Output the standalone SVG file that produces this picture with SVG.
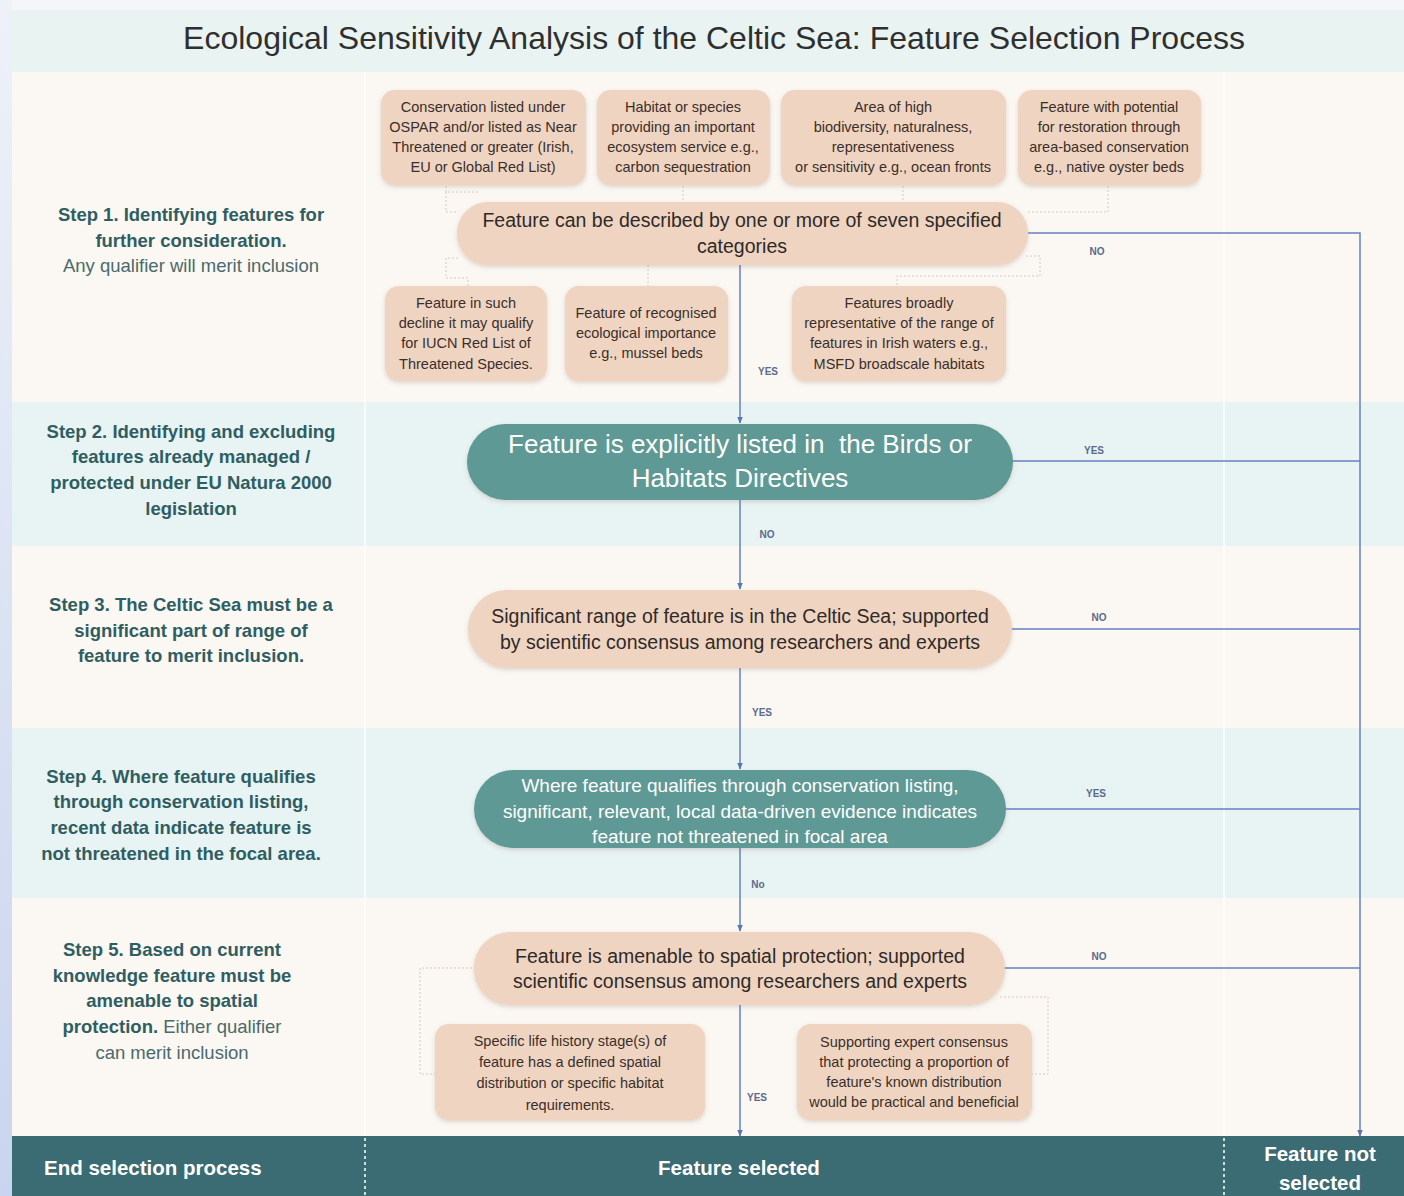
<svg xmlns="http://www.w3.org/2000/svg" width="1404" height="1196" viewBox="0 0 1404 1196">
<defs>
<linearGradient id="edge" x1="0" y1="0" x2="0" y2="1">
<stop offset="0" stop-color="#eef1f8"/><stop offset="1" stop-color="#c9d4ee"/>
</linearGradient>
<filter id="sh" x="-10%" y="-20%" width="120%" height="150%">
<feDropShadow dx="0" dy="2" stdDeviation="2" flood-color="#8a7060" flood-opacity="0.25"/>
</filter>
<marker id="ar" viewBox="0 0 10 10" refX="9" refY="5" markerWidth="7" markerHeight="7" orient="auto" markerUnits="userSpaceOnUse">
<path d="M0,1 L10,5 L0,9 z" fill="#5874b4"/>
</marker>
<style>
.peach{fill:#efd4c1;filter:url(#sh)}
.teal{fill:#5f9995;filter:url(#sh)}
.bt{font-family:"Liberation Sans",Arial,sans-serif;font-size:14.5px;fill:#3a2f2a;text-anchor:middle}
.mt{font-family:"Liberation Sans",Arial,sans-serif;font-size:19.5px;fill:#2e2a28;text-anchor:middle}
.wt{font-family:"Liberation Sans",Arial,sans-serif;fill:#ffffff;text-anchor:middle}
.st{font-family:"Liberation Sans",Arial,sans-serif;font-size:18.5px;font-weight:bold;fill:#2f5e62;text-anchor:middle}
.sn{font-weight:normal;fill:#4a6a6c}
.lbl{font-family:"Liberation Sans",Arial,sans-serif;font-size:10px;font-weight:bold;fill:#5a6b8e;text-anchor:middle}
.ln{stroke:#6682c2;stroke-width:1.5;fill:none}
.dash{stroke:#d6ccc4;stroke-width:1;fill:none;stroke-dasharray:2 2}
.bar{font-family:"Liberation Sans",Arial,sans-serif;font-size:20.5px;font-weight:bold;fill:#ffffff}
</style>
</defs>
<!-- background -->
<rect x="0" y="0" width="1404" height="1196" fill="#f4f6fa"/>
<rect x="0" y="0" width="12" height="1196" fill="url(#edge)"/>
<rect x="12" y="10" width="1392" height="62" fill="#e9f3f2"/>
<rect x="12" y="72" width="1392" height="330" fill="#fbf7f2"/>
<rect x="12" y="402" width="1392" height="144" fill="#e8f3f3"/>
<rect x="12" y="546" width="1392" height="182" fill="#fbf7f2"/>
<rect x="12" y="728" width="1392" height="170" fill="#e8f3f3"/>
<rect x="12" y="898" width="1392" height="238" fill="#fbf7f2"/>
<line x1="365" y1="72" x2="365" y2="1136" stroke="#ffffff" stroke-width="2" opacity="0.7"/>
<line x1="1224" y1="72" x2="1224" y2="1136" stroke="#ffffff" stroke-width="2" opacity="0.7"/>

<text x="714" y="49" font-family="Liberation Sans, Arial, sans-serif" font-size="32" fill="#2f2f2f" text-anchor="middle">Ecological Sensitivity Analysis of the Celtic Sea: Feature Selection Process</text>

<!-- step labels -->
<g id="step1-label">
<text class="st" x="191" y="221">Step 1. Identifying features for</text>
<text class="st" x="191" y="247">further consideration.</text>
<text class="st sn" x="191" y="272">Any qualifier will merit inclusion</text>
</g>
<g id="step2-label">
<text class="st" x="191" y="438">Step 2. Identifying and excluding</text>
<text class="st" x="191" y="463">features already managed /</text>
<text class="st" x="191" y="489">protected under EU Natura 2000</text>
<text class="st" x="191" y="515">legislation</text>
</g>
<g id="step3-label">
<text class="st" x="191" y="611">Step 3. The Celtic Sea must be a</text>
<text class="st" x="191" y="637">significant part of range of</text>
<text class="st" x="191" y="662">feature to merit inclusion.</text>
</g>
<g id="step4-label">
<text class="st" x="181" y="783">Step 4. Where feature qualifies</text>
<text class="st" x="181" y="808">through conservation listing,</text>
<text class="st" x="181" y="834">recent data indicate feature is</text>
<text class="st" x="181" y="860">not threatened in the focal area.</text>
</g>
<g id="step5-label">
<text class="st" x="172" y="956">Step 5. Based on current</text>
<text class="st" x="172" y="982">knowledge feature must be</text>
<text class="st" x="172" y="1007">amenable to spatial</text>
<text class="st" x="172" y="1033">protection.<tspan class="sn"> Either qualifier</tspan></text>
<text class="st sn" x="172" y="1059">can merit inclusion</text>
</g>

<!-- connectors -->
<g id="connectors">
<path class="dash" d="M446,186 V192 H480 M446,192 V212 H458"/>
<path class="dash" d="M683,186 V202"/>
<path class="dash" d="M903,186 V202"/>
<path class="dash" d="M1108,186 V212 H1028"/>
<path class="dash" d="M458,258 H446 V278 H468 V286"/>
<path class="dash" d="M648,265 V286"/>
<path class="dash" d="M1026,256 H1040 V276 H897 V286"/>
<path class="dash" d="M476,968 H420 V1074 H435"/>
<path class="dash" d="M1000,997 H1048 V1074 H1032"/>
<path class="ln" d="M740,265 V423" marker-end="url(#ar)"/>
<path class="ln" d="M740,500 V589" marker-end="url(#ar)"/>
<path class="ln" d="M740,668 V769" marker-end="url(#ar)"/>
<path class="ln" d="M740,848 V931" marker-end="url(#ar)"/>
<path class="ln" d="M740,1005 V1136" marker-end="url(#ar)"/>
<path class="ln" d="M1028,233 H1360 V1136" marker-end="url(#ar)"/>
<path class="ln" d="M1012,461 H1360"/>
<path class="ln" d="M1011,629 H1360"/>
<path class="ln" d="M1005,809 H1360"/>
<path class="ln" d="M1004,968 H1360"/>
<text class="lbl" x="768" y="375">YES</text>
<text class="lbl" x="767" y="538">NO</text>
<text class="lbl" x="762" y="716">YES</text>
<text class="lbl" x="758" y="888">No</text>
<text class="lbl" x="757" y="1101">YES</text>
<text class="lbl" x="1097" y="255">NO</text>
<text class="lbl" x="1094" y="454">YES</text>
<text class="lbl" x="1099" y="621">NO</text>
<text class="lbl" x="1096" y="797">YES</text>
<text class="lbl" x="1099" y="960">NO</text>
</g>

<!-- category boxes -->
<g id="cat1"><rect class="peach" x="381" y="90" width="205" height="95" rx="14"/>
<text class="bt" x="483" y="112">Conservation listed under</text>
<text class="bt" x="483" y="132">OSPAR and/or listed as Near</text>
<text class="bt" x="483" y="152">Threatened or greater (Irish,</text>
<text class="bt" x="483" y="172">EU or Global Red List)</text></g>
<g id="cat2"><rect class="peach" x="597" y="90" width="173" height="95" rx="14"/>
<text class="bt" x="683" y="112">Habitat or species</text>
<text class="bt" x="683" y="132">providing an important</text>
<text class="bt" x="683" y="152">ecosystem service e.g.,</text>
<text class="bt" x="683" y="172">carbon sequestration</text></g>
<g id="cat3"><rect class="peach" x="781" y="90" width="225" height="95" rx="14"/>
<text class="bt" x="893" y="112">Area of high</text>
<text class="bt" x="893" y="132">biodiversity, naturalness,</text>
<text class="bt" x="893" y="152">representativeness</text>
<text class="bt" x="893" y="172">or sensitivity e.g., ocean fronts</text></g>
<g id="cat4"><rect class="peach" x="1018" y="90" width="183" height="95" rx="14"/>
<text class="bt" x="1109" y="112">Feature with potential</text>
<text class="bt" x="1109" y="132">for restoration through</text>
<text class="bt" x="1109" y="152">area-based conservation</text>
<text class="bt" x="1109" y="172">e.g., native oyster beds</text></g>
<g id="cat5"><rect class="peach" x="385" y="286" width="162" height="95" rx="14"/>
<text class="bt" x="466" y="308">Feature in such</text>
<text class="bt" x="466" y="328">decline it may qualify</text>
<text class="bt" x="466" y="348">for IUCN Red List of</text>
<text class="bt" x="466" y="369">Threatened Species.</text></g>
<g id="cat6"><rect class="peach" x="565" y="286" width="163" height="95" rx="14"/>
<text class="bt" x="646" y="318">Feature of recognised</text>
<text class="bt" x="646" y="338">ecological importance</text>
<text class="bt" x="646" y="358">e.g., mussel beds</text></g>
<g id="cat7"><rect class="peach" x="792" y="286" width="214" height="95" rx="14"/>
<text class="bt" x="899" y="308">Features broadly</text>
<text class="bt" x="899" y="328">representative of the range of</text>
<text class="bt" x="899" y="348">features in Irish waters e.g.,</text>
<text class="bt" x="899" y="369">MSFD broadscale habitats</text></g>

<!-- decision boxes -->
<g id="step1"><rect class="peach" x="457" y="202" width="571" height="63" rx="31"/>
<text class="mt" x="742" y="227">Feature can be described by one or more of seven specified</text>
<text class="mt" x="742" y="253">categories</text></g>
<g id="step2"><rect class="teal" x="467" y="424" width="546" height="76" rx="38"/>
<text class="wt" x="740" y="453" font-size="26">Feature is explicitly listed in&#160; the Birds or</text>
<text class="wt" x="740" y="487" font-size="26">Habitats Directives</text></g>
<g id="step3"><rect class="peach" x="468" y="590" width="544" height="78" rx="39"/>
<text class="mt" x="740" y="623">Significant range of feature is in the Celtic Sea; supported</text>
<text class="mt" x="740" y="649">by scientific consensus among researchers and experts</text></g>
<g id="step4"><rect class="teal" x="474" y="770" width="532" height="78" rx="39"/>
<text class="wt" x="740" y="792" font-size="19">Where feature qualifies through conservation listing,</text>
<text class="wt" x="740" y="818" font-size="19">significant, relevant, local data-driven evidence indicates</text>
<text class="wt" x="740" y="843" font-size="19">feature not threatened in focal area</text></g>
<g id="step5"><rect class="peach" x="474" y="932" width="531" height="73" rx="36"/>
<text class="mt" x="740" y="963">Feature is amenable to spatial protection; supported</text>
<text class="mt" x="740" y="988">scientific consensus among researchers and experts</text></g>
<g id="cat8"><rect class="peach" x="435" y="1024" width="270" height="96" rx="14"/>
<text class="bt" x="570" y="1046">Specific life history stage(s) of</text>
<text class="bt" x="570" y="1067">feature has a defined spatial</text>
<text class="bt" x="570" y="1088">distribution or specific habitat</text>
<text class="bt" x="570" y="1110">requirements.</text></g>
<g id="cat9"><rect class="peach" x="797" y="1024" width="235" height="96" rx="14"/>
<text class="bt" x="914" y="1047">Supporting expert consensus</text>
<text class="bt" x="914" y="1067">that protecting a proportion of</text>
<text class="bt" x="914" y="1087">feature's known distribution</text>
<text class="bt" x="914" y="1107">would be practical and beneficial</text></g>

<!-- bottom bar -->
<g id="end-bar">
<rect x="12" y="1136" width="1392" height="60" fill="#3b6b73"/>
<line x1="365" y1="1138" x2="365" y2="1196" stroke="#ffffff" stroke-width="1.5" stroke-dasharray="3 3"/>
<line x1="1224" y1="1138" x2="1224" y2="1196" stroke="#ffffff" stroke-width="1.5" stroke-dasharray="3 3"/>
<text class="bar" x="44" y="1175">End selection process</text>
<text class="bar" x="739" y="1175" text-anchor="middle">Feature selected</text>
<text class="bar" x="1320" y="1161" text-anchor="middle">Feature not</text>
<text class="bar" x="1320" y="1190" text-anchor="middle">selected</text>
</g>
</svg>
